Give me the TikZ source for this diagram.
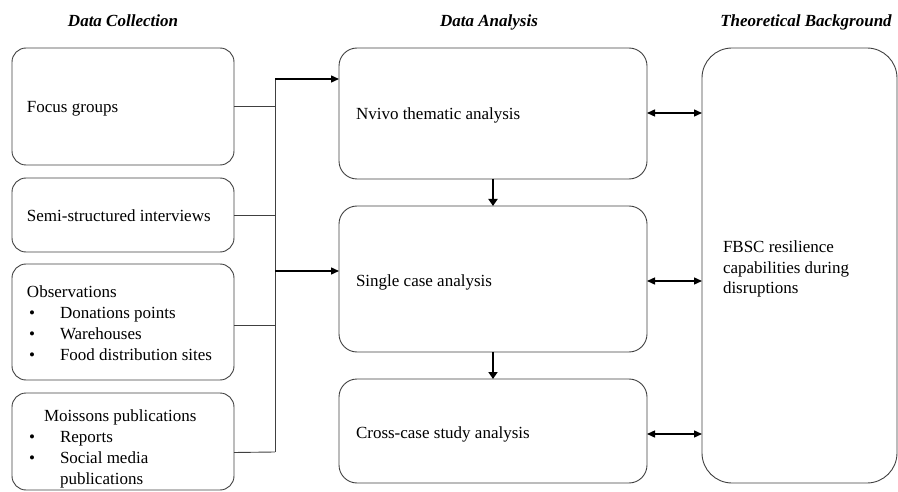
\documentclass[tikz,border=0pt]{standalone}
\usepackage{fontspec}
\setmainfont{Liberation Serif}
\usetikzlibrary{arrows.meta,calc}
\begin{document}
\begin{tikzpicture}[x=1pt,y=-1pt,
  box/.style={draw=black!75,line width=0.9pt,rectangle,inner sep=0pt,outer sep=0pt,anchor=north west},
  txt/.style={inner sep=0pt,outer sep=0pt,anchor=base west,font=\fontsize{17}{20}\selectfont},
  head/.style={inner sep=0pt,outer sep=0pt,anchor=base,font=\fontsize{17}{20}\selectfont\bfseries\itshape},
  conn/.style={draw=black!75,line width=0.9pt},
  arr/.style={draw=black,line width=1.4pt,-{Triangle[length=8pt,width=7pt]}},
  darr/.style={draw=black,line width=1.4pt,{Triangle[length=8pt,width=7pt]}-{Triangle[length=8pt,width=7pt]}},
  varr/.style={draw=black,line width=2.8pt,-{Triangle[length=7pt,width=9pt]}}
]
\useasboundingbox (0,0) rectangle (898,492);
% headers
\node[head] (h1) at (123,27) {Data Collection};
\node[head] (h2) at (489,27) {Data Analysis};
\node[head] (h3) at (806,27) {Theoretical Background};
% left boxes
\node[box,rounded corners=14pt,minimum width=222pt,minimum height=117pt] (b1) at (12,48) {};
\node[box,rounded corners=14pt,minimum width=222pt,minimum height=74pt] (b2) at (12,178) {};
\node[box,rounded corners=14pt,minimum width=222pt,minimum height=116pt] (b3) at (12,264) {};
\node[box,rounded corners=14pt,minimum width=222pt,minimum height=97pt] (b4) at (12,393) {};
\node[txt] (t1) at (27,113) {Focus groups};
\node[txt] (t2) at (27,222) {Semi-structured interviews};
\node[txt] (t3) at (27,298) {Observations};
\node[txt] (t3a) at (29,318) {\textbullet};
\node[txt] (t3b) at (60,318) {Donations points};
\node[txt] (t3c) at (29,339) {\textbullet};
\node[txt] (t3d) at (60,339) {Warehouses};
\node[txt] (t3e) at (29,360) {\textbullet};
\node[txt] (t3f) at (60,360) {Food distribution sites};
\node[txt] (t4) at (44,421) {Moissons publications};
\node[txt] (t4a) at (29,442) {\textbullet};
\node[txt] (t4b) at (60,442) {Reports};
\node[txt] (t4c) at (29,463) {\textbullet};
\node[txt] (t4d) at (60,463) {Social media};
\node[txt] (t4e) at (60,484) {publications};
% middle boxes
\node[box,rounded corners=18pt,minimum width=308pt,minimum height=131pt] (nv) at (339,48) {};
\node[box,rounded corners=18pt,minimum width=308pt,minimum height=146pt] (sc) at (339,206) {};
\node[box,rounded corners=18pt,minimum width=308pt,minimum height=104pt] (cc) at (339,379) {};
\node[txt] (tn) at (356,120) {Nvivo thematic analysis};
\node[txt] (ts) at (356,287) {Single case analysis};
\node[txt] (tc) at (356,438) {Cross-case study analysis};
% right box
\node[box,rounded corners=30pt,minimum width=195pt,minimum height=435pt] (fb) at (702,48) {};
\node[txt] (tf1) at (723,253) {FBSC resilience};
\node[txt] (tf2) at (723,273) {capabilities during};
\node[txt] (tf3) at (723,293) {disruptions};
% junction
\coordinate (jt) at (275,79);
\coordinate (jm) at (275,271);
\coordinate (jb) at (275,452);
\draw[conn] (b1.east) -- (b1.east -| jt);
\draw[conn] (b2.east) -- (b2.east -| jt);
\draw[conn] ([yshift=-3pt]b3.east) -- ([yshift=-3pt]b3.east -| jt);
\draw[conn] ([yshift=-11pt]b4.east) -- (jb);
\draw[conn] (jt) -- (jb);
\draw[arr] (jt) -- (jt -| nv.west);
\draw[arr] (jm) -- (jm -| sc.west);
% vertical arrows
\draw[varr] (nv.south) -- (sc.north);
\draw[varr] (sc.south) -- (cc.north);
% double arrows
\draw[darr] ([yshift=0.5pt]nv.east) -- ([yshift=0.5pt]nv.east -| fb.west);
\draw[darr] ([yshift=-2pt]sc.east) -- ([yshift=-2pt]sc.east -| fb.west);
\draw[darr] ([yshift=-3pt]cc.east) -- ([yshift=-3pt]cc.east -| fb.west);
\end{tikzpicture}
\end{document}
